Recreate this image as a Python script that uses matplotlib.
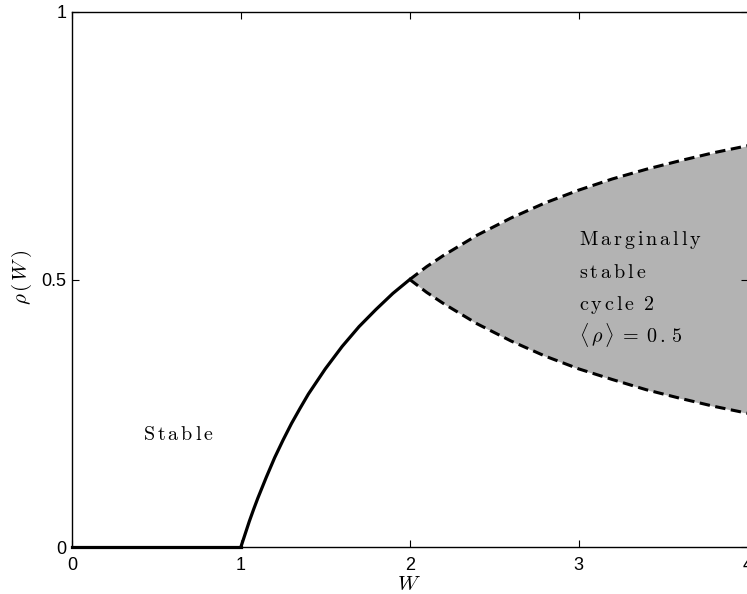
import matplotlib
matplotlib.use('Agg')
import matplotlib.pyplot as plt

# stable fixed point: rho = 0 below W = 1, then rises to 0.5 at W = 2
w_flat = [0.0, 1.0]
rho_flat = [0.0, 0.0]
w_branch = [1.0, 1.025, 1.05, 1.075, 1.1, 1.15, 1.2, 1.25, 1.3, 1.35, 1.4,
            1.5, 1.6, 1.7, 1.8, 1.9, 2.0]
rho_branch = [0.0, 0.024, 0.048, 0.070, 0.091, 0.130, 0.167, 0.200, 0.231,
              0.259, 0.286, 0.333, 0.375, 0.412, 0.444, 0.474, 0.5]

# marginally stable cycle-2 band (upper and lower branch)
w_cycle = [2.0, 2.1, 2.2, 2.4, 2.6, 2.8, 3.0, 3.2, 3.4, 3.6, 3.8, 4.0]
rho_upper = [0.5, 0.524, 0.545, 0.583, 0.615, 0.643, 0.667, 0.688, 0.706,
             0.722, 0.737, 0.75]
rho_lower = [0.5, 0.476, 0.455, 0.417, 0.385, 0.357, 0.333, 0.313, 0.294,
             0.278, 0.263, 0.25]

x_ticks = [0, 1, 2, 3, 4]
y_ticks = [0, 0.5, 1]
y_tick_labels = ['0', '0.5', '1']

band_lines = [r'$\mathrm{M\,a\,r\,g\,i\,n\,a\,l\,l\,y}$',
              r'$\mathrm{s\,t\,a\,b\,l\,e}$',
              r'$\mathrm{c\,y\,c\,l\,e\;\;2}$',
              r'$\langle\,\rho\,\rangle\;=\;0\,.\,5$']

plt.rcParams['mathtext.fontset'] = 'cm'
plt.rcParams['font.family'] = ['Liberation Sans', 'DejaVu Sans']

W, H = 747, 594
fig = plt.figure(figsize=(W / 100, H / 100), dpi=100)
ax = fig.add_axes([72 / W, 1 - 547 / H, 675.5 / W, 535 / H])

ax.fill_between(w_cycle, rho_lower, rho_upper, color='#b3b3b3', lw=0, zorder=1)
ax.plot(w_flat, rho_flat, color='black', lw=2.3, clip_on=False, zorder=3)
ax.plot(w_branch, rho_branch, color='black', lw=2.3, clip_on=False, zorder=3)
ax.plot(w_cycle, rho_upper, color='black', lw=2.2, dashes=(3.4, 1.8), zorder=3)
ax.plot(w_cycle, rho_lower, color='black', lw=2.2, dashes=(3.4, 1.8), zorder=3)

ax.text(0.42, 0.2, r'$\mathrm{S\,t\,a\,b\,l\,e}$', fontsize=14.5,
        ha='left', va='baseline')
band_y = [0.5645, 0.503, 0.443, 0.381]
for txt, yy in zip(band_lines, band_y):
    ax.text(3.0, yy, txt, fontsize=14.5, ha='left', va='baseline')

ax.set_xlim(0, 4)
ax.set_ylim(0, 1)
ax.set_xticks(x_ticks)
ax.set_yticks(y_ticks)
ax.set_yticklabels(y_tick_labels)
ax.tick_params(direction='in', top=True, right=True, length=5, width=0.8,
               labelsize=13)
ax.tick_params(axis='x', pad=7)
ax.tick_params(axis='y', pad=4)
for sp in ax.spines.values():
    sp.set_linewidth(1.0)

fig.text(409 / W, 1 - 585 / H, r'$W$', fontsize=15, ha='center', va='center')
fig.text(22 / W, 1 - 277 / H, r'$\rho\,(\,W\,)$', fontsize=15, rotation=90,
         ha='center', va='center')

fig.savefig('out.png', dpi=100)
